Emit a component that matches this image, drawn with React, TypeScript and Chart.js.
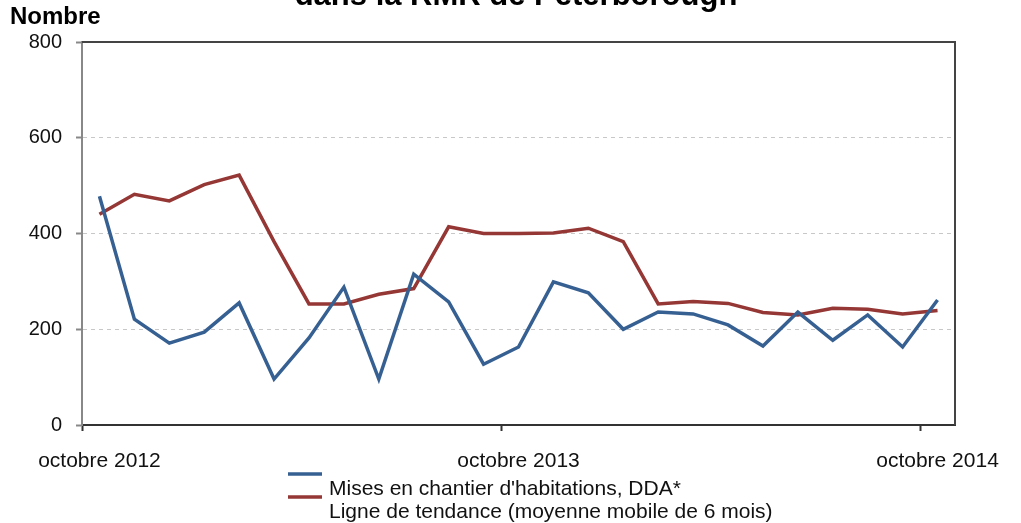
import React, { useEffect, useRef } from "react";
import { Chart, registerables } from "chart.js";

Chart.register(...registerables);

const categories = [
  "octobre 2012", "novembre 2012", "décembre 2012", "janvier 2013", "février 2013",
  "mars 2013", "avril 2013", "mai 2013", "juin 2013", "juillet 2013", "août 2013",
  "septembre 2013", "octobre 2013", "novembre 2013", "décembre 2013", "janvier 2014",
  "février 2014", "mars 2014", "avril 2014", "mai 2014", "juin 2014", "juillet 2014",
  "août 2014", "septembre 2014", "octobre 2014",
];

const misesEnChantier = [
  478, 221, 171, 194, 255, 96, 182, 288, 96, 315, 257, 127, 163,
  299, 276, 200, 236, 232, 209, 165, 236, 177, 230, 163, 261,
];

const tendance = [
  440, 482, 468, 502, 522, 383, 253, 253, 273, 285, 414, 400, 400,
  401, 411, 383, 253, 258, 254, 235, 230, 244, 242, 232, 239,
];

const yTicks = [0, 200, 400, 600, 800];

const seriesLabels = [
  "Mises en chantier d'habitations, DDA*",
  "Ligne de tendance (moyenne mobile de 6 mois)",
];

const titleText = "dans la RMR de Peterborough";
const yAxisTitle = "Nombre";

const BLUE = "#376092";
const RED = "#953735";
const FONT = '"Liberation Sans", Arial, sans-serif';

const decorPlugin = {
  id: "decor",
  afterDraw(chart: any) {
    const { ctx, chartArea } = chart;
    ctx.save();
    // frame top/right
    ctx.strokeStyle = "#444";
    ctx.lineWidth = 2;
    ctx.beginPath();
    ctx.moveTo(chartArea.left, chartArea.top);
    ctx.lineTo(chartArea.right, chartArea.top);
    ctx.lineTo(chartArea.right, chartArea.bottom);
    ctx.stroke();

    // partially visible title
    ctx.fillStyle = "#000";
    ctx.font = `bold 31px ${FONT}`;
    ctx.textAlign = "center";
    ctx.textBaseline = "alphabetic";
    ctx.fillText(titleText, 516, 5);

    // y axis title
    ctx.textAlign = "left";
    ctx.font = `bold 24px ${FONT}`;
    ctx.fillText(yAxisTitle, 10, 24);

    // legend
    const items = chart.data.datasets;
    const lineY = [474, 497];
    const textY = [495, 518];
    items.forEach((ds: any, i: number) => {
      ctx.strokeStyle = ds.borderColor;
      ctx.lineWidth = 3.5;
      ctx.beginPath();
      ctx.moveTo(288, lineY[i]);
      ctx.lineTo(322, lineY[i]);
      ctx.stroke();
      ctx.fillStyle = "#111";
      ctx.font = `21px ${FONT}`;
      ctx.textAlign = "left";
      ctx.fillText(ds.label, 329, textY[i]);
    });
    ctx.restore();
  },
};

export default function App() {
  const ref = useRef<HTMLCanvasElement>(null);
  useEffect(() => {
    const chart = new Chart(ref.current as HTMLCanvasElement, {
      type: "line",
      data: {
        labels: categories,
        datasets: [
          {
            label: seriesLabels[0],
            data: misesEnChantier,
            borderColor: BLUE,
            backgroundColor: BLUE,
            borderWidth: 3.5,
            pointRadius: 0,
            tension: 0,
          },
          {
            label: seriesLabels[1],
            data: tendance,
            borderColor: RED,
            backgroundColor: RED,
            borderWidth: 3.5,
            pointRadius: 0,
            tension: 0,
          },
        ],
      },
      options: {
        responsive: false,
        animation: false,
        layout: { padding: { top: 42, right: 66, left: 0, bottom: 0 } },
        plugins: {
          legend: { display: false },
          tooltip: { enabled: false },
          title: { display: false },
        },
        scales: {
          x: {
            type: "category",
            offset: true,
            grid: {
              offset: true,
              drawOnChartArea: false,
              tickLength: 6,
              tickWidth: 2,
              tickColor: (c: any) =>
                typeof c.index === "number" && c.index % 12 === 0 ? "#333" : "transparent",
            },
            border: { color: "#333", width: 2 },
            ticks: {
              autoSkip: false,
              maxRotation: 0,
              padding: 18,
              color: "#111",
              font: { family: FONT, size: 21 },
              callback: function (this: any, value: any, index: number) {
                return index % 12 === 0 ? this.getLabelForValue(value) : "";
              },
            },
            afterFit: (s: any) => {
              s.height = 98;
              s.paddingLeft = 0;
              s.paddingRight = 0;
            },
          },
          y: {
            min: yTicks[0],
            max: yTicks[yTicks.length - 1],
            afterBuildTicks: (s: any) => {
              s.ticks = yTicks.map((v) => ({ value: v }));
            },
            grid: {
              color: (c: any) =>
                c.tick && (c.tick.value === 0 || c.tick.value === 800) ? "transparent" : "#c8c8c8",
              lineWidth: 1,
              tickLength: 6,
              tickWidth: 2,
              tickColor: "#888",
            },
            border: { color: "#888", width: 2, dash: [4, 4] },
            ticks: {
              padding: 14,
              color: "#111",
              font: { family: FONT, size: 20 },
            },
            afterFit: (s: any) => {
              s.width = 82;
              s.paddingTop = 0;
              s.paddingBottom = 0;
            },
          },
        },
      },
      plugins: [decorPlugin],
    } as any);
    return () => chart.destroy();
  }, []);
  return (
    <div style={{ position: "absolute", left: 0, top: 0, width: 1021, height: 523, background: "#fff" }}>
      <canvas ref={ref} width={1021} height={523} style={{ display: "block" }} />
    </div>
  );
}
